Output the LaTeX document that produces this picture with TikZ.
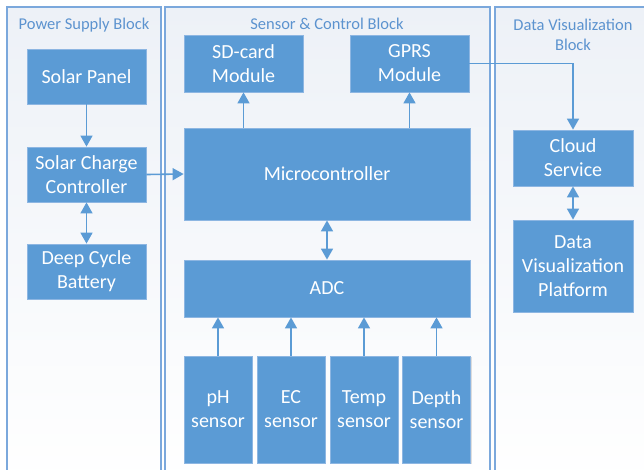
\documentclass[tikz,border=0pt]{standalone}
\usepackage{fontspec}
\setmainfont{Carlito}
\usetikzlibrary{arrows.meta,shadows}
\definecolor{boxfill}{HTML}{5B9BD5}
\definecolor{boxline}{HTML}{8DB6E2}
\definecolor{panelline}{HTML}{7BA8DC}
\definecolor{paneltop}{HTML}{EDF1F7}
\definecolor{titlecol}{HTML}{5C93CF}
\definecolor{arrowcol}{HTML}{5B9BD5}
\tikzset{
  blk/.style={draw=boxline, line width=0.8pt, fill=boxfill, text=white,
    align=center, inner sep=0pt,
    font=\fontsize{20}{24}\selectfont,
    drop shadow={opacity=0.25, shadow xshift=1pt, shadow yshift=-1pt}},
  panel/.style={draw=panelline, line width=1.5pt, top color=paneltop, bottom color=white},
  ptitle/.style={text=titlecol, align=center, inner sep=0pt,
    font=\fontsize{16.5}{20}\selectfont},
  conn/.style={draw=arrowcol, line width=1.6pt, -{Triangle[length=11pt,width=12pt]}},
  conn2/.style={draw=arrowcol, line width=1.6pt, {Triangle[length=11pt,width=12pt]}-{Triangle[length=11pt,width=12pt]}}
}
\begin{document}
\begin{tikzpicture}[x=1pt,y=-1pt]
\useasboundingbox (0,0) rectangle (644,469);
\clip (0,0) rectangle (644,469);
\fill[white] (0,0) rectangle (644,469);
% panels
\path[panel] (7,7) rectangle (161,485);
\path[panel] (165,7) rectangle (490,485);
\path[panel] (495,7) rectangle (665,485);
% titles
\node[ptitle] (t1) at (84,25) {Power Supply Block};
\node[ptitle] (t2) at (327,24) {Sensor \& Control Block};
\node[ptitle] (t3) at (573,35) {Data Visualization\\Block};
% power supply
\node[blk, minimum width=119pt, minimum height=55pt] (solar) at (86.5,76.5) {Solar Panel};
\node[blk, minimum width=119pt, minimum height=55pt] (charge) at (86.5,174.5) {Solar Charge\\Controller};
\node[blk, minimum width=119pt, minimum height=55pt] (batt) at (86.5,271.5) {Deep Cycle\\Battery};
% sensor & control
\node[blk, minimum width=119pt, minimum height=57pt] (sd) at (243.5,63.5) {SD-card\\Module};
\node[blk, minimum width=119pt, minimum height=57pt] (gprs) at (409.5,63.5) {GPRS\\Module};
\node[blk, minimum width=286pt, minimum height=92pt] (micro) at (327,174) {Microcontroller};
\node[blk, minimum width=286pt, minimum height=57pt] (adc) at (327,288.5) {ADC};
\node[blk, minimum width=68pt, minimum height=107pt] (ph) at (218,409.5) {pH\\sensor};
\node[blk, minimum width=68pt, minimum height=107pt] (ec) at (291,409.5) {EC\\sensor};
\node[blk, minimum width=68pt, minimum height=107pt] (temp) at (364,409.5) {Temp\\sensor};
\node[blk, minimum width=68pt, minimum height=107pt] (depth) at (436.5,409.5) {Depth\\sensor};
% data visualization
\node[blk, minimum width=120pt, minimum height=56pt] (cloud) at (573,158) {Cloud\\Service};
\node[blk, minimum width=120pt, minimum height=92pt] (plat) at (573,266) {Data\\Visualization\\Platform};
% connectors
\draw[conn] (solar.south) -- (charge.north);
\draw[conn2] (charge.south) -- (batt.north);
\draw[conn] (charge.east) -- (micro.west);
\draw[conn] (micro.north -| sd.south) -- (sd.south);
\draw[conn] (micro.north -| gprs.south) -- (gprs.south);
\draw[conn2] (micro.south) -- (adc.north);
\draw[conn] (ph.north) -- (ph.north |- adc.south);
\draw[conn] (ec.north) -- (ec.north |- adc.south);
\draw[conn] (temp.north) -- (temp.north |- adc.south);
\draw[conn] (depth.north) -- (depth.north |- adc.south);
\draw[conn] (gprs.east) -| (cloud.north);
\draw[conn2] (cloud.south) -- (plat.north);
\end{tikzpicture}
\end{document}
